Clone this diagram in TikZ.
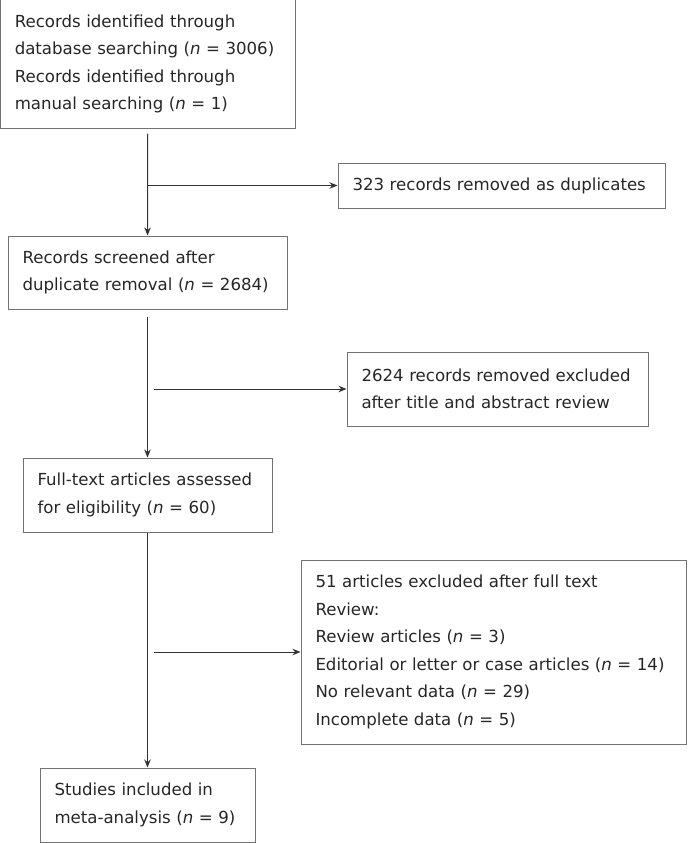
\documentclass[tikz,border=0pt]{standalone}
\usepackage{fontspec}
\setmainfont{DejaVu Sans}
\usetikzlibrary{arrows.meta}

\tikzset{
  stage/.style={draw=black!55, line width=1pt, rectangle, align=left,
    inner xsep=14.5pt, inner ysep=0pt, text=black!85,
    font=\fontsize{16.6}{27.6}\selectfont},
  flow/.style={draw=black!80, line width=1pt,
    -{Stealth[length=8pt,width=6.5pt]}}
}

\begin{document}
\begin{tikzpicture}[x=1pt,y=-1pt]
      \useasboundingbox (0,0) rectangle (688,843);
      \draw
        (147.75,64) node[stage, text width=266pt, minimum height=128pt] (id)
          {Records identified through\\database searching (\textit{n} = 3006)\\Records identified through\\manual searching (\textit{n} = 1)}
        (501.5,185.5) node[stage, text width=298pt, minimum height=45pt] (dup)
          {323 records removed as duplicates}
        (147.5,272.5) node[stage, text width=250pt, minimum height=73pt] (scr)
          {Records screened after\\duplicate removal (\textit{n} = 2684)}
        (497.5,389) node[stage, text width=272pt, minimum height=74pt] (tiab)
          {2624 records removed excluded\\after title and abstract review}
        (147.5,495) node[stage, text width=220pt, minimum height=74pt] (full)
          {Full-text articles assessed\\for eligibility (\textit{n} = 60)}
        (493.5,652) node[stage, text width=356pt, minimum height=184pt] (ftx)
          {51 articles excluded after full text\\Review:\\Review articles (\textit{n} = 3)\\Editorial or letter or case articles (\textit{n} = 14)\\No relevant data (\textit{n} = 29)\\Incomplete data (\textit{n} = 5)}
        (147.5,805) node[stage, text width=186pt, minimum height=74pt] (incl)
          {Studies included in\\meta-analysis (\textit{n} = 9)};
      \begin{scope}[flow]
        \draw[shorten <=5pt] (id) to (scr);
        \draw (id.south |- dup.west) to (dup);
        \draw[shorten <=7pt] (scr) to (full);
        \draw[shorten <=6pt] (scr.south |- tiab.west) to (tiab);
        \draw (full) to (incl);
        \draw[shorten <=6pt] (full.south |- ftx.west) to (ftx);
      \end{scope}
    \end{tikzpicture}
\end{document}
